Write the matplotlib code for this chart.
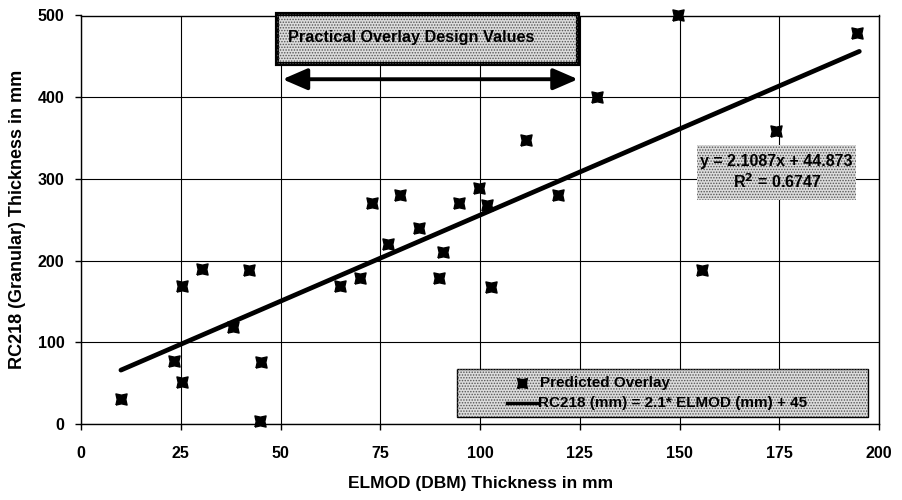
import matplotlib
matplotlib.use("Agg")
import matplotlib.pyplot as plt
from matplotlib.path import Path
from matplotlib.patches import Rectangle

plt.rcParams["font.family"] = ["Liberation Sans", "DejaVu Sans"]
plt.rcParams["font.weight"] = "bold"
plt.rcParams["hatch.linewidth"] = 0.7

# predicted overlay points
elmod = [10, 23.2, 25.2, 25.2, 30.2, 38.1, 42.1, 45, 44.8, 64.8, 69.8, 72.8, 76.8,
         79.8, 84.7, 89.8, 90.7, 94.7, 99.7, 101.7, 102.6, 111.6, 119.5, 129.2,
         149.6, 155.6, 174.2, 194.3]
rc218 = [30, 77, 169, 51, 190, 119, 188, 76, 4, 169, 179, 271, 220,
         280, 240, 179, 210, 270, 289, 268, 168, 348, 280, 400,
         500, 189, 359, 478]

slope, intercept, r2 = 2.1087, 44.873, 0.6747
fit_x = [10, 195]
design_range = [50, 125]

x_ticks = [0, 25, 50, 75, 100, 125, 150, 175, 200]
y_ticks = [0, 100, 200, 300, 400, 500]

STIPPLE = "#dcdcdc"
DOTS = "#555555"

# concave-square marker, like the old spreadsheet one
marker = Path([(-1, -1), (0, -0.78), (1, -1), (0.78, 0), (1, 1), (0, 0.78),
               (-1, 1), (-0.78, 0), (-1, -1)])

fig = plt.figure(figsize=(9.02, 5), dpi=100)
ax = fig.add_axes([0.0898, 0.152, 0.885, 0.817])

ax.set_xlim(0, 200)
ax.set_ylim(0, 500)
ax.set_xticks(x_ticks)
ax.set_yticks(y_ticks)
ax.grid(True, color="black", linewidth=0.8)
ax.set_axisbelow(True)
for s in ax.spines.values():
    s.set_linewidth(1.0)
ax.tick_params(labelsize=11.5, length=4, width=1, direction="out")
ax.tick_params(axis="x", pad=12)
ax.tick_params(axis="y", pad=8)

fit_y = [slope * x + intercept for x in fit_x]
ax.plot(fit_x, fit_y, color="black", linewidth=3.4, solid_capstyle="round", zorder=3)
ax.plot(elmod, rc218, linestyle="none", marker=marker, markersize=8,
        color="black", clip_on=False, zorder=4)

ax.set_xlabel("ELMOD (DBM) Thickness in mm", fontsize=12.5, fontweight="bold")
ax.set_ylabel("RC218 (Granular) Thickness in mm", fontsize=13, fontweight="bold")
ax.xaxis.set_label_coords(0.5, -0.127)
ax.yaxis.set_label_coords(-0.069, 0.5)

# design range arrow and title box
ax.annotate("", xy=(design_range[1] - 0.5, 422), xytext=(design_range[0] + 0.5, 422),
            arrowprops=dict(arrowstyle="<|-|>,head_length=1.5,head_width=0.65",
                            color="black", linewidth=2.8, shrinkA=0, shrinkB=0),
            zorder=5)
ax.add_patch(Rectangle((0.2456, 0.881), 0.377, 0.123, transform=ax.transAxes,
                       facecolor=STIPPLE, edgecolor="black", linewidth=3,
                       clip_on=False, zorder=6))
ax.add_patch(Rectangle((0.2456, 0.881), 0.377, 0.123, transform=ax.transAxes,
                       facecolor="none", edgecolor=DOTS, linewidth=0, hatch="......",
                       clip_on=False, zorder=6))
ax.text(0.259, 0.947, "Practical Overlay Design Values", transform=ax.transAxes,
        fontsize=11.7, fontweight="bold", ha="left", va="center", zorder=7)

# regression equation box
ax.add_patch(Rectangle((154.4, 274), 39.8, 67.5, facecolor=STIPPLE,
                       edgecolor=DOTS, linewidth=0, hatch="......", zorder=5))
ax.text(174.3, 308, f"y = {slope}x + {intercept}\nR$^{{2}}$ = {r2}", fontsize=11.5,
        fontweight="bold", ha="center", va="center", linespacing=1.25, zorder=6)

# legend drawn by hand to match the boxed layout
ax.add_patch(Rectangle((0.471, 0.017), 0.515, 0.118, transform=ax.transAxes,
                       facecolor=STIPPLE, edgecolor="black", linewidth=1.0, zorder=5))
ax.add_patch(Rectangle((0.471, 0.017), 0.515, 0.118, transform=ax.transAxes,
                       facecolor="none", edgecolor=DOTS, linewidth=0, hatch="......",
                       zorder=5))
ax.plot([0.5522], [0.0999], transform=ax.transAxes, linestyle="none", marker=marker,
        markersize=7, color="black", zorder=6)
ax.plot([0.5338, 0.5720], [0.0522, 0.0522], transform=ax.transAxes, color="black",
        linewidth=2.5, zorder=6)
ax.text(0.5752, 0.0999, "Predicted Overlay", transform=ax.transAxes, fontsize=11,
        fontweight="bold", ha="left", va="center", zorder=6)
ax.text(0.5720, 0.0522, "RC218 (mm) = 2.1* ELMOD (mm) + 45", transform=ax.transAxes,
        fontsize=11, fontweight="bold", ha="left", va="center", zorder=6)

fig.savefig("out.png", dpi=100)
